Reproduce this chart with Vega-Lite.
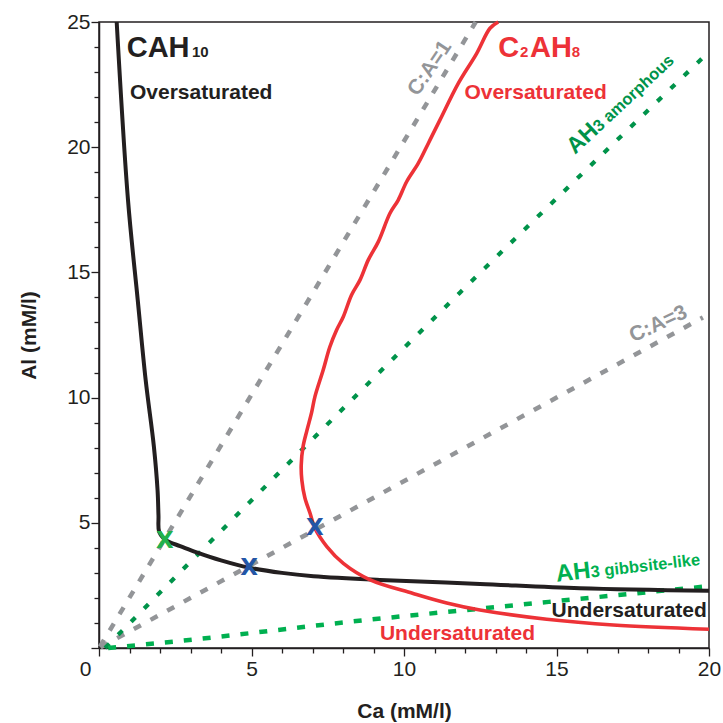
{
  "$schema": "https://vega.github.io/schema/vega-lite/v6.json",
  "width": 610,
  "height": 626,
  "autosize": {"type": "none"},
  "padding": {"left": 99, "top": 22, "right": 14, "bottom": 75},
  "background": "white",
  "config": {
    "view": {"stroke": "#231f20", "strokeWidth": 1.5},
    "font": "Liberation Sans",
    "text": {"font": "Liberation Sans"}
  },
  "datasets": {
    "lines": [
      {"s": "ca", "k": "ca1", "i": 0, "x": 0.03, "y": 0.05},
      {"s": "ca", "k": "ca1", "i": 1, "x": 12.35, "y": 25.0},
      {"s": "ca", "k": "ca3", "i": 0, "x": 0.05, "y": 0.03},
      {"s": "ca", "k": "ca3", "i": 1, "x": 19.8, "y": 13.2},
      {"s": "am", "k": "am", "i": 0, "x": 0.2, "y": 0.0},
      {"s": "am", "k": "am", "i": 1, "x": 4.84, "y": 5.7},
      {"s": "am", "k": "am", "i": 2, "x": 11.84, "y": 14.2},
      {"s": "am", "k": "am", "i": 3, "x": 19.95, "y": 23.75},
      {"s": "gb", "k": "gb", "i": 0, "x": 0.3, "y": 0.0},
      {"s": "gb", "k": "gb", "i": 1, "x": 2.55, "y": 0.27},
      {"s": "gb", "k": "gb", "i": 2, "x": 8.78, "y": 1.12},
      {"s": "gb", "k": "gb", "i": 3, "x": 13.15, "y": 1.65},
      {"s": "gb", "k": "gb", "i": 4, "x": 20.0, "y": 2.47},
      {"s": "cah", "k": "cah", "i": 0, "x": 0.58, "y": 25.0},
      {"s": "cah", "k": "cah", "i": 1, "x": 0.95, "y": 17.9},
      {"s": "cah", "k": "cah", "i": 2, "x": 1.27, "y": 13.9},
      {"s": "cah", "k": "cah", "i": 3, "x": 1.53, "y": 10.7},
      {"s": "cah", "k": "cah", "i": 4, "x": 1.8, "y": 8.04},
      {"s": "cah", "k": "cah", "i": 5, "x": 1.92, "y": 6.3},
      {"s": "cah", "k": "cah", "i": 6, "x": 1.95, "y": 5.3},
      {"s": "cah", "k": "cah", "i": 7, "x": 1.97, "y": 4.65},
      {"s": "cah", "k": "cah", "i": 8, "x": 2.12, "y": 4.38},
      {"s": "cah", "k": "cah", "i": 9, "x": 2.27, "y": 4.25},
      {"s": "cah", "k": "cah", "i": 10, "x": 2.66, "y": 4.07},
      {"s": "cah", "k": "cah", "i": 11, "x": 3.2, "y": 3.82},
      {"s": "cah", "k": "cah", "i": 12, "x": 4.0, "y": 3.5},
      {"s": "cah", "k": "cah", "i": 13, "x": 4.92, "y": 3.21},
      {"s": "cah", "k": "cah", "i": 14, "x": 6.0, "y": 3.0},
      {"s": "cah", "k": "cah", "i": 15, "x": 7.03, "y": 2.87},
      {"s": "cah", "k": "cah", "i": 16, "x": 9.21, "y": 2.72},
      {"s": "cah", "k": "cah", "i": 17, "x": 12.49, "y": 2.56},
      {"s": "cah", "k": "cah", "i": 18, "x": 15.77, "y": 2.39},
      {"s": "cah", "k": "cah", "i": 19, "x": 20.0, "y": 2.29},
      {"s": "c2ah", "k": "c2ah", "i": 0, "x": 13.09, "y": 25.0},
      {"s": "c2ah", "k": "c2ah", "i": 1, "x": 12.82, "y": 24.75},
      {"s": "c2ah", "k": "c2ah", "i": 2, "x": 12.38, "y": 23.74},
      {"s": "c2ah", "k": "c2ah", "i": 3, "x": 11.78, "y": 22.55},
      {"s": "c2ah", "k": "c2ah", "i": 4, "x": 11.18, "y": 21.09},
      {"s": "c2ah", "k": "c2ah", "i": 5, "x": 10.8, "y": 20.16},
      {"s": "c2ah", "k": "c2ah", "i": 6, "x": 10.47, "y": 19.36},
      {"s": "c2ah", "k": "c2ah", "i": 7, "x": 10.09, "y": 18.63},
      {"s": "c2ah", "k": "c2ah", "i": 8, "x": 9.81, "y": 17.89},
      {"s": "c2ah", "k": "c2ah", "i": 9, "x": 9.54, "y": 17.36},
      {"s": "c2ah", "k": "c2ah", "i": 10, "x": 9.16, "y": 16.23},
      {"s": "c2ah", "k": "c2ah", "i": 11, "x": 8.83, "y": 15.5},
      {"s": "c2ah", "k": "c2ah", "i": 12, "x": 8.56, "y": 14.7},
      {"s": "c2ah", "k": "c2ah", "i": 13, "x": 8.28, "y": 14.1},
      {"s": "c2ah", "k": "c2ah", "i": 14, "x": 8.01, "y": 13.23},
      {"s": "c2ah", "k": "c2ah", "i": 15, "x": 7.79, "y": 12.7},
      {"s": "c2ah", "k": "c2ah", "i": 16, "x": 7.57, "y": 12.03},
      {"s": "c2ah", "k": "c2ah", "i": 17, "x": 7.35, "y": 11.1},
      {"s": "c2ah", "k": "c2ah", "i": 18, "x": 7.08, "y": 10.04},
      {"s": "c2ah", "k": "c2ah", "i": 19, "x": 6.97, "y": 9.4},
      {"s": "c2ah", "k": "c2ah", "i": 20, "x": 6.82, "y": 8.7},
      {"s": "c2ah", "k": "c2ah", "i": 21, "x": 6.69, "y": 8.04},
      {"s": "c2ah", "k": "c2ah", "i": 22, "x": 6.63, "y": 7.3},
      {"s": "c2ah", "k": "c2ah", "i": 23, "x": 6.65, "y": 6.71},
      {"s": "c2ah", "k": "c2ah", "i": 24, "x": 6.75, "y": 6.0},
      {"s": "c2ah", "k": "c2ah", "i": 25, "x": 6.92, "y": 5.38},
      {"s": "c2ah", "k": "c2ah", "i": 26, "x": 7.08, "y": 4.78},
      {"s": "c2ah", "k": "c2ah", "i": 27, "x": 7.47, "y": 4.05},
      {"s": "c2ah", "k": "c2ah", "i": 28, "x": 8.01, "y": 3.38},
      {"s": "c2ah", "k": "c2ah", "i": 29, "x": 8.89, "y": 2.72},
      {"s": "c2ah", "k": "c2ah", "i": 30, "x": 10.3, "y": 2.18},
      {"s": "c2ah", "k": "c2ah", "i": 31, "x": 11.4, "y": 1.8},
      {"s": "c2ah", "k": "c2ah", "i": 32, "x": 12.49, "y": 1.52},
      {"s": "c2ah", "k": "c2ah", "i": 33, "x": 14.68, "y": 1.15},
      {"s": "c2ah", "k": "c2ah", "i": 34, "x": 16.86, "y": 0.92},
      {"s": "c2ah", "k": "c2ah", "i": 35, "x": 20.0, "y": 0.75}
    ],
    "labels": [
      {"r": "big", "g": "CAH10", "t": "CAH", "x": 0.908, "y": 23.59},
      {"r": "big", "g": "C2AH8", "t": "C", "x": 13.09, "y": 23.59},
      {"r": "big", "g": "C2AH8", "t": "AH", "x": 14.13, "y": 23.59},
      {"r": "sub", "g": "CAH10", "t": "10", "x": 3.05, "y": 23.59},
      {"r": "sub", "g": "C2AH8", "t": "2", "x": 13.8, "y": 23.59},
      {"r": "sub", "g": "C2AH8", "t": "8", "x": 15.5, "y": 23.59},
      {"r": "state", "g": "CAH10", "t": "Oversaturated", "x": 1.016, "y": 21.91},
      {"r": "state", "g": "C2AH8", "t": "Oversaturated", "x": 11.98, "y": 21.91},
      {"r": "state", "g": "CAH10", "t": "Undersaturated", "x": 14.84, "y": 1.23},
      {"r": "state", "g": "C2AH8", "t": "Undersaturated", "x": 9.21, "y": 0.3},
      {"r": "ca1", "g": "CA", "t": "C:A=1", "x": 10.85, "y": 23.15},
      {"r": "ca3", "g": "CA", "t": "C:A=3", "x": 18.34, "y": 12.93},
      {"r": "ambig", "g": "AHam", "t": "AH", "x": 15.61, "y": 19.69},
      {"r": "amsub", "g": "AHam", "t": "3 amorphous", "x": 16.4, "y": 20.59},
      {"r": "gbbig", "g": "AHgb", "t": "AH", "x": 15.01, "y": 2.65},
      {"r": "gbsub", "g": "AHgb", "t": "3 gibbsite-like", "x": 16.14, "y": 2.82},
      {"r": "mark", "g": "Xg", "t": "X", "x": 2.16, "y": 4.29},
      {"r": "mark", "g": "Xb", "t": "X", "x": 4.92, "y": 3.21},
      {"r": "mark", "g": "Xb", "t": "X", "x": 7.08, "y": 4.78}
    ]
  },
  "encoding": {
    "x": {
      "field": "x",
      "type": "quantitative",
      "scale": {"domain": [0, 20], "nice": false, "zero": false},
      "axis": {
        "title": "Ca (mM/l)",
        "values": [0,1,2,3,4,5,6,7,8,9,10,11,12,13,14,15,16,17,18,19,20],
        "labelExpr": "datum.value % 5 === 0 ? datum.label : ''",
        "tickSize": {"condition": {"test": "datum.value % 5 === 0", "value": 8}, "value": 5},
        "labelOffset": {"condition": {"test": "datum.value === 0", "value": -14}, "value": 0},
        "labelFlush": false,
        "labelOverlap": false,
        "grid": false,
        "labelFont": "Liberation Sans",
        "labelFontSize": 21,
        "labelPadding": 2,
        "labelColor": "#231f20",
        "titleFont": "Liberation Sans",
        "titleFontSize": 21,
        "titleFontWeight": "bold",
        "titleColor": "#231f20",
        "titlePadding": 21,
        "domainColor": "#231f20",
        "domainWidth": 1.5,
        "tickColor": "#231f20",
        "tickWidth": 1.3
      }
    },
    "y": {
      "field": "y",
      "type": "quantitative",
      "scale": {"domain": [0, 25], "nice": false, "zero": false},
      "axis": {
        "title": "Al (mM/l)",
        "values": [0,1,2,3,4,5,6,7,8,9,10,11,12,13,14,15,16,17,18,19,20,21,22,23,24,25],
        "labelExpr": "datum.value % 5 === 0 && datum.value > 0 ? datum.label : ''",
        "tickSize": {"condition": {"test": "datum.value % 5 === 0", "value": 8}, "value": 5},
        "labelFlush": false,
        "labelOverlap": false,
        "grid": false,
        "labelFont": "Liberation Sans",
        "labelFontSize": 21,
        "labelPadding": 1,
        "labelColor": "#231f20",
        "titleFont": "Liberation Sans",
        "titleFontSize": 21,
        "titleFontWeight": "bold",
        "titleColor": "#231f20",
        "titlePadding": 27,
        "domainColor": "#231f20",
        "domainWidth": 1.5,
        "tickColor": "#231f20",
        "tickWidth": 1.3
      }
    }
  },
  "layer": [
    {
      "data": {"name": "lines"},
      "transform": [{"filter": "datum.s === 'ca'"}],
      "mark": {"type": "line", "color": "#939598", "strokeWidth": 4.5, "strokeDash": [8, 11], "strokeCap": "butt"},
      "encoding": {"detail": {"field": "k"}, "order": {"field": "i"}}
    },
    {
      "data": {"name": "lines"},
      "transform": [{"filter": "datum.s === 'am'"}],
      "mark": {"type": "line", "color": "#00934a", "strokeWidth": 4.2, "strokeDash": [6, 12.5], "strokeCap": "butt", "interpolate": "monotone"},
      "encoding": {"order": {"field": "i"}}
    },
    {
      "data": {"name": "lines"},
      "transform": [{"filter": "datum.s === 'gb'"}],
      "mark": {"type": "line", "color": "#00b050", "strokeWidth": 4.5, "strokeDash": [8, 11], "strokeCap": "butt", "interpolate": "monotone"},
      "encoding": {"order": {"field": "i"}}
    },
    {
      "data": {"name": "lines"},
      "transform": [{"filter": "datum.s === 'cah'"}],
      "mark": {"type": "line", "color": "#231f20", "strokeWidth": 4, "interpolate": "catmull-rom"},
      "encoding": {"order": {"field": "i"}}
    },
    {
      "data": {"name": "lines"},
      "transform": [{"filter": "datum.s === 'c2ah'"}],
      "mark": {"type": "line", "color": "#ed3237", "strokeWidth": 3.6, "interpolate": "catmull-rom"},
      "encoding": {"order": {"field": "i"}}
    },
    {
      "data": {"name": "labels"},
      "transform": [{"filter": "datum.r === 'big'"}],
      "mark": {"type": "text", "fontSize": 29, "fontWeight": "bold", "align": "left", "baseline": "alphabetic"},
      "encoding": {"text": {"field": "t"}, "color": {"field": "g", "type": "nominal", "legend": null, "scale": {"domain": ["CAH10", "C2AH8", "CA", "AHam", "AHgb", "Xg", "Xb"], "range": ["#231f20", "#ed3237", "#939598", "#00934a", "#00b050", "#22b14c", "#2356a6"]}}}
    },
    {
      "data": {"name": "labels"},
      "transform": [{"filter": "datum.r === 'sub'"}],
      "mark": {"type": "text", "fontSize": 15, "fontWeight": "bold", "align": "left", "baseline": "alphabetic"},
      "encoding": {"text": {"field": "t"}, "color": {"field": "g", "type": "nominal", "legend": null, "scale": {"domain": ["CAH10", "C2AH8", "CA", "AHam", "AHgb", "Xg", "Xb"], "range": ["#231f20", "#ed3237", "#939598", "#00934a", "#00b050", "#22b14c", "#2356a6"]}}}
    },
    {
      "data": {"name": "labels"},
      "transform": [{"filter": "datum.r === 'state'"}],
      "mark": {"type": "text", "fontSize": 21, "fontWeight": "bold", "align": "left", "baseline": "alphabetic"},
      "encoding": {"text": {"field": "t"}, "color": {"field": "g", "type": "nominal", "legend": null, "scale": {"domain": ["CAH10", "C2AH8", "CA", "AHam", "AHgb", "Xg", "Xb"], "range": ["#231f20", "#ed3237", "#939598", "#00934a", "#00b050", "#22b14c", "#2356a6"]}}}
    },
    {
      "data": {"name": "labels"},
      "transform": [{"filter": "datum.r === 'ca1'"}],
      "mark": {"type": "text", "fontSize": 21, "fontWeight": "bold", "align": "center", "baseline": "middle", "angle": -56},
      "encoding": {"text": {"field": "t"}, "color": {"field": "g", "type": "nominal", "legend": null, "scale": {"domain": ["CAH10", "C2AH8", "CA", "AHam", "AHgb", "Xg", "Xb"], "range": ["#231f20", "#ed3237", "#939598", "#00934a", "#00b050", "#22b14c", "#2356a6"]}}}
    },
    {
      "data": {"name": "labels"},
      "transform": [{"filter": "datum.r === 'ca3'"}],
      "mark": {"type": "text", "fontSize": 21, "fontWeight": "bold", "align": "center", "baseline": "middle", "angle": -25},
      "encoding": {"text": {"field": "t"}, "color": {"field": "g", "type": "nominal", "legend": null, "scale": {"domain": ["CAH10", "C2AH8", "CA", "AHam", "AHgb", "Xg", "Xb"], "range": ["#231f20", "#ed3237", "#939598", "#00934a", "#00b050", "#22b14c", "#2356a6"]}}}
    },
    {
      "data": {"name": "labels"},
      "transform": [{"filter": "datum.r === 'ambig'"}],
      "mark": {"type": "text", "fontSize": 23, "fontWeight": "bold", "align": "left", "baseline": "alphabetic", "angle": -43},
      "encoding": {"text": {"field": "t"}, "color": {"field": "g", "type": "nominal", "legend": null, "scale": {"domain": ["CAH10", "C2AH8", "CA", "AHam", "AHgb", "Xg", "Xb"], "range": ["#231f20", "#ed3237", "#939598", "#00934a", "#00b050", "#22b14c", "#2356a6"]}}}
    },
    {
      "data": {"name": "labels"},
      "transform": [{"filter": "datum.r === 'amsub'"}],
      "mark": {"type": "text", "fontSize": 16.5, "fontWeight": "bold", "align": "left", "baseline": "alphabetic", "angle": -43},
      "encoding": {"text": {"field": "t"}, "color": {"field": "g", "type": "nominal", "legend": null, "scale": {"domain": ["CAH10", "C2AH8", "CA", "AHam", "AHgb", "Xg", "Xb"], "range": ["#231f20", "#ed3237", "#939598", "#00934a", "#00b050", "#22b14c", "#2356a6"]}}}
    },
    {
      "data": {"name": "labels"},
      "transform": [{"filter": "datum.r === 'gbbig'"}],
      "mark": {"type": "text", "fontSize": 24, "fontWeight": "bold", "align": "left", "baseline": "alphabetic", "angle": -6.5},
      "encoding": {"text": {"field": "t"}, "color": {"field": "g", "type": "nominal", "legend": null, "scale": {"domain": ["CAH10", "C2AH8", "CA", "AHam", "AHgb", "Xg", "Xb"], "range": ["#231f20", "#ed3237", "#939598", "#00934a", "#00b050", "#22b14c", "#2356a6"]}}}
    },
    {
      "data": {"name": "labels"},
      "transform": [{"filter": "datum.r === 'gbsub'"}],
      "mark": {"type": "text", "fontSize": 16.5, "fontWeight": "bold", "align": "left", "baseline": "alphabetic", "angle": -6.5},
      "encoding": {"text": {"field": "t"}, "color": {"field": "g", "type": "nominal", "legend": null, "scale": {"domain": ["CAH10", "C2AH8", "CA", "AHam", "AHgb", "Xg", "Xb"], "range": ["#231f20", "#ed3237", "#939598", "#00934a", "#00b050", "#22b14c", "#2356a6"]}}}
    },
    {
      "data": {"name": "labels"},
      "transform": [{"filter": "datum.r === 'mark'"}],
      "mark": {"type": "text", "font": "DejaVu Sans", "fontSize": 23, "fontWeight": "bold", "align": "center", "baseline": "middle"},
      "encoding": {"text": {"field": "t"}, "color": {"field": "g", "type": "nominal", "legend": null, "scale": {"domain": ["CAH10", "C2AH8", "CA", "AHam", "AHgb", "Xg", "Xb"], "range": ["#231f20", "#ed3237", "#939598", "#00934a", "#00b050", "#22b14c", "#2356a6"]}}}
    }
  ]
}
